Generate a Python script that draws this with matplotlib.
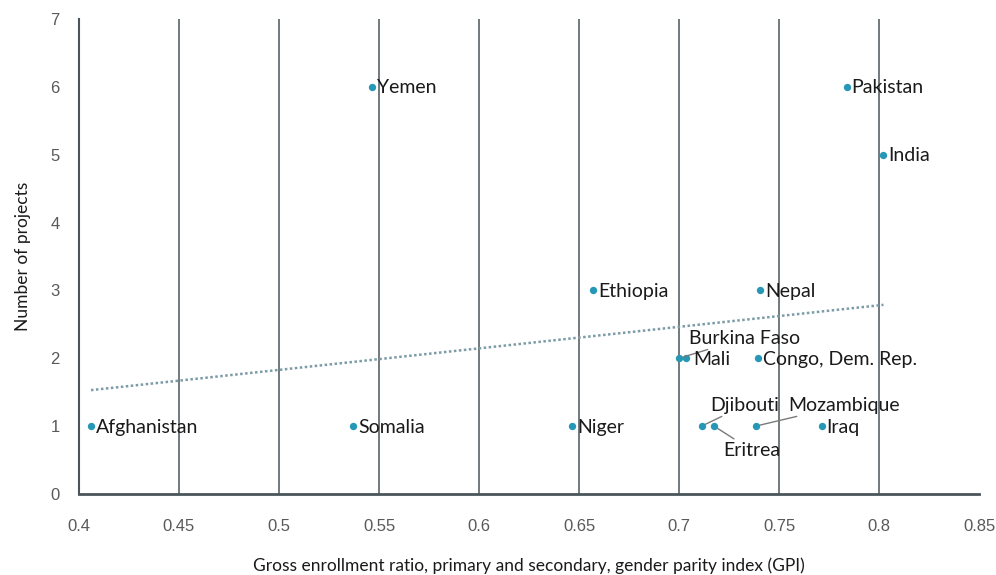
import matplotlib.pyplot as plt
import numpy as np

plt.rcParams['font.family'] = ['Lato', 'DejaVu Sans']

# GPI (x) and number of projects (y) per country
countries = ['Afghanistan', 'Somalia', 'Yemen', 'Niger', 'Ethiopia', 'Burkina Faso',
             'Mali', 'Congo, Dem. Rep.', 'Nepal', 'Djibouti', 'Eritrea', 'Mozambique',
             'Iraq', 'Pakistan', 'India']
gpi = [0.406, 0.537, 0.5465, 0.6465, 0.657, 0.700,
       0.7033, 0.7397, 0.7405, 0.7113, 0.7175, 0.7383,
       0.7713, 0.7838, 0.8022]
projects = [1, 1, 6, 1, 3, 2, 2, 2, 3, 1, 1, 1, 1, 6, 5]

# label offsets in pixels (dx, dy) for labels with leader lines
label_pos = {
    'Burkina Faso': (10, 20),
    'Djibouti': (9, 21),
    'Eritrea': (9, -24),
    'Mozambique': (33, 21),
}

teal = '#2698b5'
grid_col = '#4b5559'
lab_font = 14

fig = plt.figure(figsize=(9.96, 5.75), dpi=100)
ax = fig.add_axes([0.0793, 0.1409, 0.9037, 0.8261])

ax.scatter(gpi, projects, s=28, color=teal, zorder=3, linewidths=0)

# linear trend
slope, icpt = np.polyfit(gpi, projects, 1)
xs = np.array([min(gpi), max(gpi)])
ax.plot(xs, slope * xs + icpt, color='#7b9ba6', lw=1.8, ls=(0, (1, 1)), zorder=2)

for name, x, y in zip(countries, gpi, projects):
    if name in label_pos:
        dx, dy = label_pos[name]
        ax.annotate(name, (x, y), xytext=(dx, dy), textcoords='offset pixels',
                    fontsize=lab_font, color='#1a1a1a', ha='left', va='center',
                    arrowprops=dict(arrowstyle='-', color='#7a7a7a', lw=1,
                                    shrinkA=0, shrinkB=3))
    else:
        dx = 8 if name == 'Mali' else 5
        ax.annotate(name, (x, y), xytext=(dx, -1), textcoords='offset pixels',
                    fontsize=lab_font, color='#1a1a1a', ha='left', va='center')

ax.set_xlim(0.4, 0.85)
ax.set_ylim(0, 7)
ax.set_xticks(np.arange(0.4, 0.851, 0.05))
ax.set_xticklabels(['0.4', '0.45', '0.5', '0.55', '0.6', '0.65', '0.7', '0.75', '0.8', '0.85'])
ax.set_yticks(range(8))

for gx in np.arange(0.45, 0.81, 0.05):
    ax.axvline(gx, color=grid_col, lw=1.1, zorder=1)

for s in ['top', 'right']:
    ax.spines[s].set_visible(False)
ax.spines['left'].set_color(grid_col)
ax.spines['bottom'].set_color(grid_col)
ax.spines['left'].set_linewidth(1.5)
ax.spines['bottom'].set_linewidth(2)

ax.tick_params(length=0, labelsize=12, labelcolor='#595959')
for lbl in ax.get_xticklabels() + ax.get_yticklabels():
    lbl.set_family('Liberation Sans')
ax.tick_params(axis='x', pad=18)
ax.tick_params(axis='y', pad=14)

ax.set_xlabel('Gross enrollment ratio, primary and secondary, gender parity index (GPI)',
              fontsize=12.5, color='#1a1a1a', labelpad=17)
ax.set_ylabel('Number of projects', fontsize=12.5, color='#1a1a1a', labelpad=14)

fig.savefig('out.png', dpi=100)
